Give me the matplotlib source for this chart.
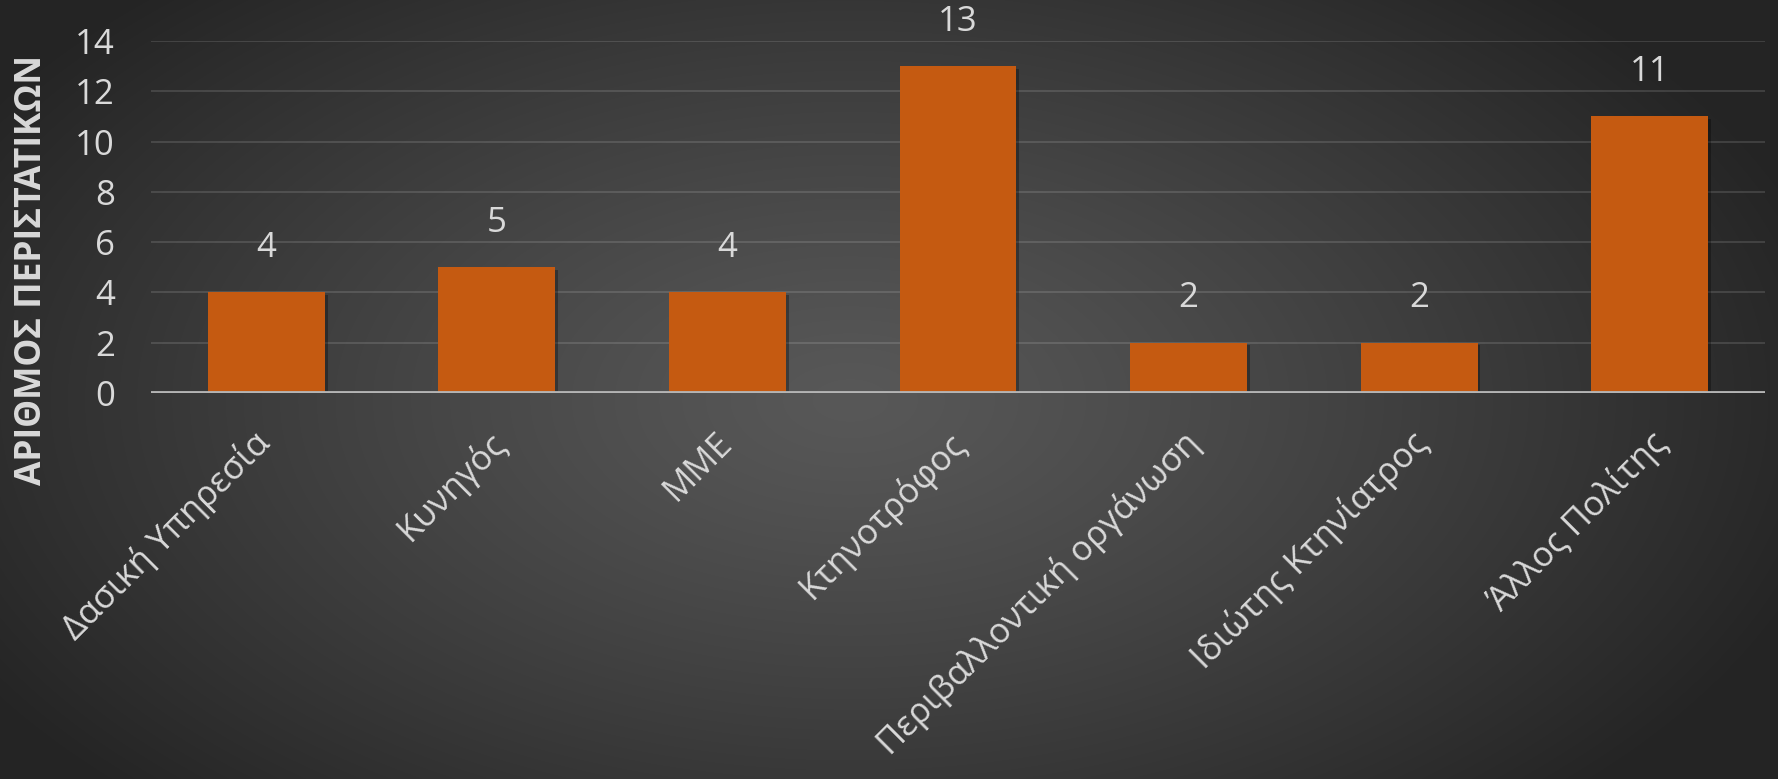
import numpy as np
import matplotlib
matplotlib.use("Agg")
import matplotlib.pyplot as plt
import matplotlib.patheffects as pe
from matplotlib.transforms import ScaledTranslation

# Δεδομένα
categories = ["Δασική Υπηρεσία", "Κυνηγός", "ΜΜΕ", "Κτηνοτρόφος",
              "Περιβαλλοντική οργάνωση", "Ιδιώτης Κτηνίατρος", "Άλλος Πολίτης"]
values = [4, 5, 4, 13, 2, 2, 11]
y_ticks = [0, 2, 4, 6, 8, 10, 12, 14]
y_title = "ΑΡΙΘΜΟΣ ΠΕΡΙΣΤΑΤΙΚΩΝ"

# label placement tweaks (pixels)
label_dx = [-2, 4, 0, 2, 6, 3, 12]
label_dy = -45

plt.rcParams['font.family'] = ['Open Sans', 'DejaVu Sans']
text_col = '#d9d9d9'
bar_col = '#c55a11'

W, H, DPI = 1778, 779, 100
fig = plt.figure(figsize=(W / DPI, H / DPI), dpi=DPI)

# radial gradient background
bg = fig.add_axes([0, 0, 1, 1], zorder=-10)
yy, xx = np.mgrid[0:H, 0:W]
r = np.sqrt(((xx - 850) / 1000.0) ** 2 + ((yy - 400) / 560.0) ** 2)
r = np.clip(r, 0, 1)
c0, c1 = 0x58 / 255, 0x25 / 255
img = c0 + (c1 - c0) * r ** 1.2
bg.imshow(np.dstack([img, img, img]), aspect='auto', extent=[0, 1, 0, 1])
bg.axis('off')

ax = fig.add_axes([151 / W, 1 - 393 / H, (1765 - 151) / W, (393 - 41) / H])
ax.patch.set_alpha(0)

x = np.arange(len(categories))
bars = ax.bar(x, values, width=0.507, color=bar_col, zorder=2)
for b in bars:
    b.set_path_effects([pe.SimplePatchShadow(offset=(2, -2), shadow_rgbFace='black', alpha=0.3),
                        pe.Normal()])

for xi, v in zip(x, values):
    ax.annotate(str(v), (xi, v), xytext=(0, 32), textcoords='offset points',
                ha='center', va='center', fontsize=25, color=text_col)

ax.set_xlim(-0.5, len(categories) - 0.5)
ax.set_ylim(0, 14)
ax.set_yticks(y_ticks)
ax.set_yticklabels([str(t) for t in y_ticks], fontsize=25, color=text_col)
ax.tick_params(axis='y', length=0, pad=26)
ax.yaxis.grid(True, color='white', alpha=0.15, lw=1.2, zorder=0)
ax.set_axisbelow(True)
for s in ax.spines.values():
    s.set_visible(False)
ax.axhline(0, color='#b4b4b4', lw=3.5, zorder=3)

ax.set_xticks(x)
ax.set_xticklabels(categories, rotation=45, ha='right', va='center',
                   rotation_mode='anchor', fontsize=25, color=text_col)
ax.tick_params(axis='x', length=0, pad=0)
for lab, dx in zip(ax.get_xticklabels(), label_dx):
    lab.set_transform(lab.get_transform() + ScaledTranslation(dx / DPI, label_dy / DPI, fig.dpi_scale_trans))

fig.text(32 / W, 1 - 270 / H, y_title, rotation=90, ha='center', va='center',
         fontsize=25.5, fontweight='bold', color=text_col)

fig.savefig('out.png', dpi=DPI)
